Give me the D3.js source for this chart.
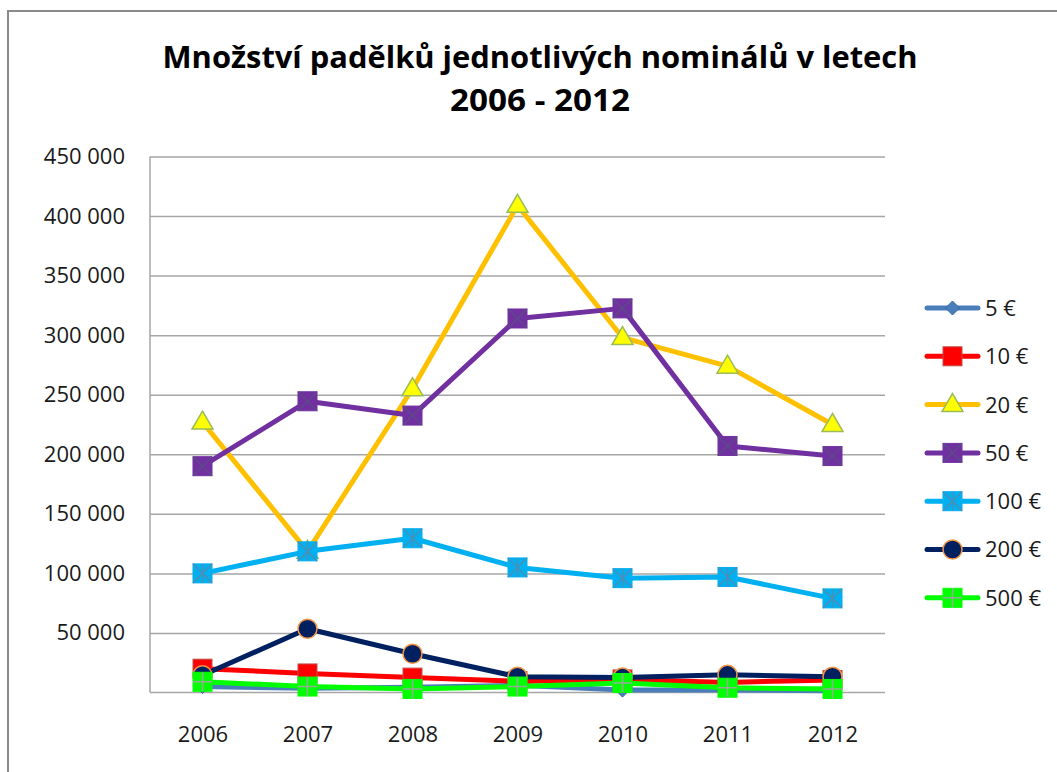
<!DOCTYPE html>
<html><head><meta charset="utf-8">
<script src="https://cdn.jsdelivr.net/npm/d3@7"></script>
<style>html,body{margin:0;padding:0;background:#fff;}</style>
</head><body>
<svg id="chart" width="1057" height="772"></svg>
<script>
const titleLines = ["Množství padělků jednotlivých nominálů v letech", "2006 - 2012"];
const years = ["2006", "2007", "2008", "2009", "2010", "2011", "2012"];
const yTicks = [50000, 100000, 150000, 200000, 250000, 300000, 350000, 400000, 450000];
const seriesNames = ["5 €", "10 €", "20 €", "50 €", "100 €", "200 €", "500 €"];
const v5   = [5000, 3500, 4500, 6000, 2000, 2000, 1500];
const v10  = [20000, 16000, 12500, 9500, 11000, 8500, 10500];
const v20  = [227000, 118500, 255000, 409000, 298000, 274000, 225000];
const v50  = [190000, 244500, 232500, 314000, 322500, 207000, 198500];
const v100 = [100000, 118500, 129500, 105000, 96000, 97000, 79000];
const v200 = [14500, 53500, 32500, 13200, 12500, 14800, 13200];
const v500 = [9000, 5000, 3000, 5000, 8000, 4000, 3000];
const seriesValues = [v5, v10, v20, v50, v100, v200, v500];

const styles = [
  {line:"#4A7EBB", marker:"diamond", fill:"#4A7EBB", stroke:"#3A679E"},
  {line:"#FF0000", marker:"square", fill:"#FF0000", stroke:"#C0504D"},
  {line:"#FFC000", marker:"triangle", fill:"#FFFF00", stroke:"#9BBB59"},
  {line:"#7030A0", marker:"squareX", fill:"#7030A0", stroke:"#7030A0", inner:"#5E4A8A"},
  {line:"#00B0F0", marker:"squareStar", fill:"#00B0F0", stroke:"#00B0F0", inner:"#4A8FB8"},
  {line:"#002060", marker:"circle", fill:"#002060", stroke:"#F79646"},
  {line:"#00FF00", marker:"squarePlus", fill:"#00FF00", stroke:"#00FF00", inner:"#9AA89A"}
];

const svg = d3.select("#chart");
const font = "'Open Sans', 'Liberation Sans', sans-serif";

svg.append("rect").attr("x",0).attr("y",0).attr("width",1057).attr("height",772).attr("fill","#fff");
svg.append("rect").attr("x",8).attr("y",11).attr("width",1100).attr("height",820)
  .attr("fill","none").attr("stroke","#8A8A8A").attr("stroke-width",2);

// title
svg.append("text").attr("x",540).attr("y",68).attr("text-anchor","middle")
  .attr("font-family",font).attr("font-weight","bold").attr("font-size",30)
  .attr("textLength",755).attr("lengthAdjust","spacingAndGlyphs").attr("fill","#000")
  .text(titleLines[0]);
svg.append("text").attr("x",540).attr("y",111).attr("text-anchor","middle")
  .attr("font-family",font).attr("font-weight","bold").attr("font-size",30)
  .attr("textLength",180).attr("lengthAdjust","spacingAndGlyphs").attr("fill","#000")
  .text(titleLines[1]);

const pLeft = 150, pRight = 885, pTop = 156.5, pBottom = 692.5;
const x = d3.scalePoint().domain(years).range([pLeft, pRight]).padding(0.5);
const y = d3.scaleLinear().domain([0, 450000]).range([pBottom, pTop]);

const loc = d3.formatLocale({decimal:",", thousands:"\u00a0", grouping:[3], currency:["","€"]});
const fmt = loc.format(",d");

// gridlines
const yAxis = d3.axisLeft(y).tickValues(yTicks).tickSize(-(pRight-pLeft)).tickFormat(fmt).tickPadding(25);
const gy = svg.append("g").attr("transform",`translate(${pLeft},0)`).call(yAxis);
gy.select(".domain").remove();
gy.selectAll(".tick line").attr("stroke","#A6A6A6").attr("stroke-width",1.5);
gy.selectAll(".tick text").attr("font-family",font).attr("font-size",22).attr("fill","#1a1a1a").attr("x",-25);

// axes lines
svg.append("line").attr("x1",pLeft).attr("x2",pLeft).attr("y1",pTop).attr("y2",pBottom)
  .attr("stroke","#A6A6A6").attr("stroke-width",1.5);
const xAxis = d3.axisBottom(x).tickSize(0).tickPadding(34);
const gx = svg.append("g").attr("transform",`translate(0,${pBottom})`).call(xAxis);
gx.select(".domain").attr("d",`M${pLeft},0H${pRight}`).attr("stroke","#A6A6A6").attr("stroke-width",1.5);
gx.selectAll(".tick text").attr("font-family",font).attr("font-size",22).attr("fill","#1a1a1a");

function drawMarker(g, st, cx, cy){
  const s = 9.5;
  const m = g.append("g").attr("transform",`translate(${cx},${cy})`);
  if (st.marker === "diamond") {
    m.append("path").attr("d",`M0,-7L7,0L0,7L-7,0Z`).attr("fill",st.fill).attr("stroke",st.stroke).attr("stroke-width",1);
  } else if (st.marker === "triangle") {
    m.append("path").attr("d",`M0,-11L10.5,7L-10.5,7Z`).attr("fill",st.fill).attr("stroke",st.stroke).attr("stroke-width",1.5);
  } else if (st.marker === "circle") {
    m.append("circle").attr("r",9.5).attr("fill",st.fill).attr("stroke",st.stroke).attr("stroke-width",1.5);
  } else {
    m.append("rect").attr("x",-s).attr("y",-s).attr("width",2*s).attr("height",2*s)
      .attr("fill",st.fill).attr("stroke",st.stroke).attr("stroke-width",1);
    let d = "";
    if (st.marker === "squareX") d = `M${-s},${-s}L${s},${s}M${s},${-s}L${-s},${s}`;
    if (st.marker === "squareStar") d = `M${-s},${-s}L${s},${s}M${s},${-s}L${-s},${s}M0,${-s}L0,${s}`;
    if (st.marker === "squarePlus") d = `M0,${-s}L0,${s}M${-s},0L${s},0`;
    if (d) m.append("path").attr("d",d).attr("stroke",st.inner).attr("stroke-width",1.5).attr("fill","none");
  }
}

const line = d3.line().x((d,i)=>x(years[i])).y(d=>y(d));
seriesValues.forEach((vals, k) => {
  const st = styles[k];
  const g = svg.append("g");
  g.append("path").datum(vals).attr("d",line).attr("fill","none")
    .attr("stroke",st.line).attr("stroke-width",5).attr("stroke-linejoin","round").attr("stroke-linecap","round");
  vals.forEach((v,i)=> drawMarker(g, st, x(years[i]), y(v)));
});

// legend
const lg = svg.append("g");
seriesNames.forEach((name, k) => {
  const st = styles[k];
  const cy = 308 + k*48.3;
  lg.append("line").attr("x1",927).attr("x2",978).attr("y1",cy).attr("y2",cy)
    .attr("stroke",st.line).attr("stroke-width",5).attr("stroke-linecap","round");
  drawMarker(lg, st, 952.5, cy);
  lg.append("text").attr("x",985).attr("y",cy).attr("dy","0.36em")
    .attr("font-family",font).attr("font-size",22).attr("fill","#1a1a1a").text(name);
});
</script>
</body></html>
